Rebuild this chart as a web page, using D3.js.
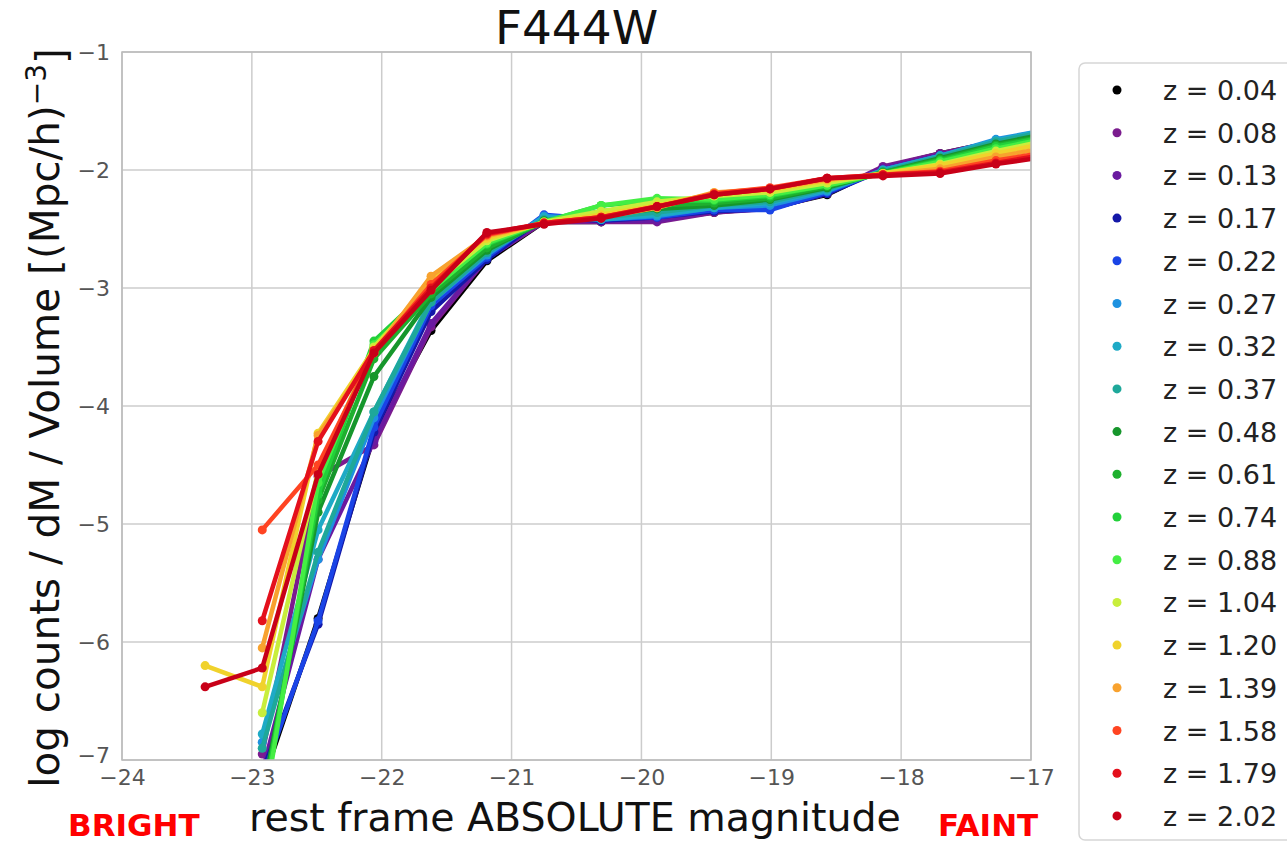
<!DOCTYPE html>
<html>
<head>
<meta charset="utf-8">
<script src="https://cdn.jsdelivr.net/npm/d3@7"></script>
<style>
  body { margin: 0; background: #fff; }
  text { font-family: "DejaVu Sans", sans-serif; }
</style>
</head>
<body>
<div id="chart"></div>
<script>
// magnitude bins (x values)
var mags = [-23.36, -22.92, -22.49, -22.06, -21.62, -21.19, -20.75, -20.31, -19.88, -19.44, -19.01, -18.57, -18.14, -17.70, -17.27, -16.83];

var redshifts = ["0.04", "0.08", "0.13", "0.17", "0.22", "0.27", "0.32", "0.37", "0.48", "0.61", "0.74", "0.88", "1.04", "1.20", "1.39", "1.58", "1.79", "2.02"];

var colors = ["#000000", "#7b1c8e", "#6a1aa0", "#1418a8", "#1a44e6", "#1e92e0", "#1eaac6", "#1ea89a", "#16962c", "#1eb02e", "#22d03a", "#44ee44", "#c8ee3c", "#f0d22c", "#f8a22e", "#ff4422", "#e4101c", "#c80018"];

// log counts / dM / Volume, one row per redshift (null = no bin)
var lf_004 = [null, -7.20, -5.80, -4.25, -3.36, -2.77, -2.44, -2.44, -2.42, -2.36, -2.32, -2.21, -1.98, -1.86, -1.76, -1.66];
var lf_008 = [null, -6.95, -4.60, -4.33, -3.33, -2.75, -2.44, -2.44, -2.44, -2.36, -2.33, -2.20, -1.97, -1.86, -1.76, -1.67];
var lf_013 = [null, -7.10, -5.30, -4.30, -3.30, -2.75, -2.43, -2.43, -2.43, -2.35, -2.33, -2.20, -1.98, -1.87, -1.76, -1.67];
var lf_017 = [null, -7.10, -5.85, -4.22, -3.20, -2.76, -2.40, -2.43, -2.40, -2.35, -2.33, -2.20, -2.00, -1.88, -1.77, -1.68];
var lf_022 = [null, -7.15, -5.82, -4.18, -3.15, -2.74, -2.38, -2.42, -2.40, -2.34, -2.34, -2.19, -2.00, -1.88, -1.76, -1.67];
var lf_027 = [null, -6.85, -5.30, -4.10, -3.12, -2.72, -2.39, -2.42, -2.39, -2.32, -2.30, -2.18, -2.00, -1.88, -1.74, -1.65];
var lf_032 = [null, -6.78, -5.05, -4.05, -3.10, -2.70, -2.40, -2.42, -2.38, -2.32, -2.28, -2.17, -2.00, -1.88, -1.75, -1.65];
var lf_037 = [null, -6.90, -5.24, -4.05, -3.12, -2.70, -2.42, -2.40, -2.36, -2.30, -2.27, -2.16, -2.01, -1.89, -1.76, -1.66];
var lf_048 = [null, -7.30, -4.90, -3.75, -3.08, -2.68, -2.43, -2.38, -2.33, -2.30, -2.25, -2.15, -2.02, -1.90, -1.78, -1.68];
var lf_061 = [null, -7.40, -4.80, -3.60, -3.05, -2.66, -2.44, -2.35, -2.30, -2.28, -2.24, -2.14, -2.02, -1.91, -1.79, -1.70];
var lf_074 = [null, -7.40, -4.75, -3.45, -3.00, -2.63, -2.44, -2.30, -2.26, -2.26, -2.22, -2.13, -2.03, -1.92, -1.80, -1.71];
var lf_088 = [null, -7.50, -4.65, -3.48, -3.02, -2.62, -2.44, -2.30, -2.24, -2.25, -2.21, -2.13, -2.03, -1.93, -1.82, -1.72];
var lf_104 = [null, -6.60, -4.55, -3.50, -2.98, -2.60, -2.44, -2.35, -2.27, -2.22, -2.19, -2.11, -2.03, -1.95, -1.84, -1.74];
var lf_120 = [-6.20, -6.38, -4.23, -3.52, -2.93, -2.58, -2.45, -2.38, -2.30, -2.20, -2.17, -2.09, -2.03, -1.96, -1.86, -1.76];
var lf_139 = [null, -6.05, -4.25, -3.55, -2.90, -2.56, -2.45, -2.40, -2.32, -2.19, -2.16, -2.08, -2.04, -1.99, -1.89, -1.80];
var lf_158 = [null, -5.05, -4.50, -3.55, -2.97, -2.55, -2.45, -2.40, -2.31, -2.20, -2.15, -2.07, -2.04, -2.01, -1.92, -1.84];
var lf_179 = [null, -5.82, -4.30, -3.53, -3.00, -2.54, -2.45, -2.40, -2.31, -2.21, -2.16, -2.07, -2.04, -2.02, -1.94, -1.86];
var lf_202 = [-6.38, -6.22, -4.58, -3.55, -3.02, -2.53, -2.46, -2.41, -2.31, -2.21, -2.16, -2.07, -2.05, -2.03, -1.95, -1.88];

var allSeries = [lf_004, lf_008, lf_013, lf_017, lf_022, lf_027, lf_032, lf_037, lf_048, lf_061, lf_074, lf_088, lf_104, lf_120, lf_139, lf_158, lf_179, lf_202];

var xTicks = [-24, -23, -22, -21, -20, -19, -18, -17];
var yTicks = [-7, -6, -5, -4, -3, -2, -1];

var cfg = {
	w: 1287,
	h: 844,
	margin: {top: 52, right: 256, bottom: 84, left: 122}
};
var graphW = cfg.w - cfg.margin.left - cfg.margin.right;
var graphH = cfg.h - cfg.margin.top - cfg.margin.bottom;

var root = d3.select("#chart").append("svg")
	.attr("width", cfg.w)
	.attr("height", cfg.h);

var svg = root.append("g")
	.attr("transform", "translate(" + cfg.margin.left + "," + cfg.margin.top + ")");

var x = d3.scaleLinear().domain([-24, -17]).range([0, graphW]);
var y = d3.scaleLinear().domain([-7, -1]).range([graphH, 0]);

var fmt = function(d) { return String(d).replace("-", "\u2212"); };

// grid
svg.append("g").selectAll("line").data(xTicks).enter().append("line")
	.attr("x1", d => x(d)).attr("x2", d => x(d))
	.attr("y1", 0).attr("y2", graphH)
	.attr("stroke", "#cccccc").attr("stroke-width", 1.5);
svg.append("g").selectAll("line").data(yTicks).enter().append("line")
	.attr("y1", d => y(d)).attr("y2", d => y(d))
	.attr("x1", 0).attr("x2", graphW)
	.attr("stroke", "#cccccc").attr("stroke-width", 1.5);

// axes (labels only)
var xAxis = svg.append("g")
	.attr("transform", "translate(0," + graphH + ")")
	.call(d3.axisBottom(x).tickValues(xTicks).tickFormat(fmt).tickSize(0).tickPadding(9));
var yAxis = svg.append("g")
	.call(d3.axisLeft(y).tickValues(yTicks).tickFormat(fmt).tickSize(0).tickPadding(12));
[xAxis, yAxis].forEach(function(a) {
	a.select(".domain").remove();
	a.selectAll("text")
		.attr("font-family", "DejaVu Sans")
		.attr("font-size", "22px")
		.attr("fill", "#555");
});
// keep the -7 label clear of the x labels, as in the source
yAxis.selectAll("text").filter(function(d) { return d === -7; }).attr("dy", "0.1em");

var clip = svg.append("defs").append("clipPath")
	.attr("id", "clip")
	.append("rect")
	.attr("width", graphW)
	.attr("height", graphH);

var plot = svg.append("g").attr("clip-path", "url(#clip)");

var line = d3.line()
	.defined(function(d) { return d != null; })
	.x(function(d, i) { return x(mags[i]); })
	.y(function(d) { return y(d); });

allSeries.forEach(function(vals, k) {
	var g = plot.append("g");
	g.append("path")
		.datum(vals)
		.attr("fill", "none")
		.attr("stroke", colors[k])
		.attr("stroke-width", 4.5)
		.attr("stroke-linejoin", "round")
		.attr("d", line);
	g.selectAll("circle")
		.data(vals.map(function(v, i) { return {m: mags[i], v: v}; }).filter(function(d) { return d.v != null; }))
		.enter().append("circle")
		.attr("cx", function(d) { return x(d.m); })
		.attr("cy", function(d) { return y(d.v); })
		.attr("r", 4.5)
		.attr("fill", colors[k]);
});

// frame
svg.append("rect")
	.attr("width", graphW).attr("height", graphH)
	.attr("fill", "none").attr("stroke", "#bbbbbb").attr("stroke-width", 1.5);

// title
root.append("text")
	.attr("x", cfg.margin.left + graphW / 2)
	.attr("y", 44)
	.attr("text-anchor", "middle")
	.attr("font-size", "47px")
	.attr("fill", "#111")
	.text("F444W");

// axis labels
root.append("text")
	.attr("x", 575)
	.attr("y", 831)
	.attr("text-anchor", "middle")
	.attr("font-size", "39.5px")
	.attr("fill", "#111")
	.text("rest frame ABSOLUTE magnitude");

root.append("text")
	.attr("transform", "translate(59,418) rotate(-90)")
	.attr("text-anchor", "middle")
	.attr("font-size", "40.5px")
	.attr("fill", "#111")
	.text("log counts / dM / Volume [(Mpc/h)")
	.append("tspan")
	.attr("dy", "-0.45em")
	.attr("font-size", "28px")
	.text("\u22123")
	.select(function() { return this.parentNode; })
	.append("tspan")
	.attr("dy", "0.45em")
	.text("]");

// BRIGHT / FAINT
root.append("text")
	.attr("x", 68).attr("y", 836)
	.attr("font-family", "Liberation Sans")
	.attr("font-weight", "bold")
	.attr("font-size", "31px")
	.attr("fill", "#ff0000")
	.text("BRIGHT");
root.append("text")
	.attr("x", 938).attr("y", 836)
	.attr("font-family", "Liberation Sans")
	.attr("font-weight", "bold")
	.attr("font-size", "31px")
	.attr("fill", "#ff0000")
	.text("FAINT");

// legend
var legend = root.append("g").attr("transform", "translate(1079,63)");
legend.append("rect")
	.attr("width", 230).attr("height", 777)
	.attr("rx", 6)
	.attr("fill", "#fff").attr("stroke", "#d6d6d6").attr("stroke-width", 1.5);
var items = legend.selectAll(".item").data(redshifts).enter().append("g")
	.attr("transform", function(d, i) { return "translate(0," + (27 + i * 42.7) + ")"; });
items.append("circle")
	.attr("cx", 38).attr("cy", 0).attr("r", 4.5)
	.attr("fill", function(d, i) { return colors[i]; });
items.append("text")
	.attr("x", 84).attr("y", 10)
	.attr("font-size", "27px")
	.attr("fill", "#222")
	.text(function(d) { return "z = " + d; });
</script>
</body>
</html>
